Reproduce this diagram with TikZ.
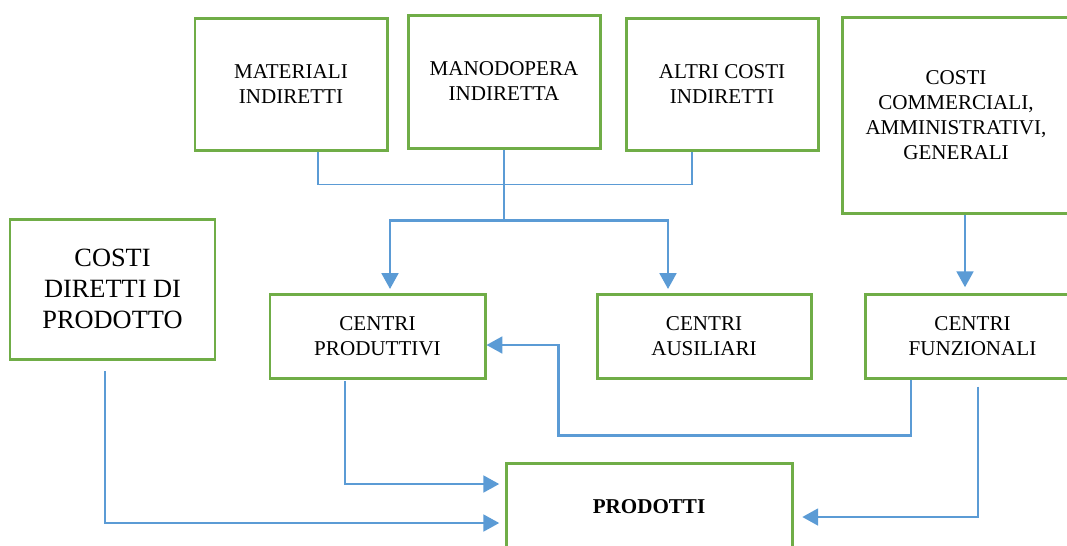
\documentclass[tikz,border=0pt]{standalone}
\usepackage{fontspec}
\setmainfont{Liberation Serif}
\usepackage{tikz}
\usetikzlibrary{arrows.meta,positioning}
\definecolor{boxgreen}{RGB}{112,173,71}
\definecolor{linkblue}{RGB}{91,155,213}

\begin{document}
\begin{tikzpicture}[
    box/.style={draw=boxgreen,line width=1.7pt,align=center,inner sep=0pt,
      font=\fontsize{12}{14.2}\selectfont},
    thin/.style={draw=linkblue,line width=0.7pt},
    flow/.style={draw=linkblue,line width=1.5pt,-{Triangle[length=9pt,width=9.5pt]}}]
  \clip (0,0) rectangle (21.34,-10.9);
  \node[box,minimum width=3.84cm,minimum height=2.64cm] (mat)  at (5.82,-1.68)  {MATERIALI\\INDIRETTI};
  \node[box,minimum width=3.84cm,minimum height=2.66cm] (mano) at (10.08,-1.63) {MANODOPERA\\INDIRETTA};
  \node[box,minimum width=3.84cm,minimum height=2.64cm] (altri) at (14.44,-1.68) {ALTRI COSTI\\INDIRETTI};
  \node[box,minimum width=4.56cm,minimum height=3.92cm] (comm) at (19.12,-2.3) {COSTI\\COMMERCIALI,\\AMMINISTRATIVI,\\GENERALI};
  \node[box,minimum width=4.1cm,minimum height=2.8cm,font=\fontsize{15}{17.6}\selectfont] (dir) at (2.25,-5.78) {COSTI\\DIRETTI DI\\PRODOTTO};
  \node[box,minimum width=4.3cm,minimum height=1.68cm] (prod) at (7.55,-6.72) {CENTRI\\PRODUTTIVI};
  \node[box,minimum width=4.28cm,minimum height=1.68cm] (aus) at (14.08,-6.72) {CENTRI\\AUSILIARI};
  \node[box,minimum width=4.3cm,minimum height=1.68cm] (funz) at (19.45,-6.72) {CENTRI\\FUNZIONALI};
  \node[box,minimum width=5.72cm,minimum height=1.76cm,font=\fontsize{12}{14.2}\selectfont\bfseries] (prodotti) at (12.98,-10.14) {PRODOTTI};

  \draw[thin] ([xshift=0.54cm]mat.south) -- ++(0,-0.66) -| ([xshift=-0.6cm]altri.south);
  \draw[thin] (mano.south) -- ++(0,-1.42) coordinate (split);
  \draw[flow,shorten >=2pt] (split) -| ([xshift=0.25cm]prod.north);
  \draw[flow,shorten >=2pt] (split) -| ([xshift=-0.72cm]aus.north);
  \draw[flow,shorten >=3pt] ([xshift=0.18cm]comm.south) -- ([xshift=0.18cm]comm.south |- funz.north);
  \draw[flow,shorten <=1pt,shorten >=3pt] ([xshift=-0.65cm]prod.south) |- ([yshift=0.46cm]prodotti.west);
  \draw[flow,shorten <=6pt,shorten >=3pt] ([xshift=-0.15cm]dir.south) |- ([yshift=-0.32cm]prodotti.west);
  \draw[flow,shorten <=4pt,shorten >=5pt] ([xshift=0.11cm]funz.south) |- ([yshift=-0.2cm]prodotti.east);
  \draw[flow] ([xshift=-1.23cm]funz.south) -- ++(0,-1.12) -| ([xshift=1.44cm,yshift=-0.18cm]prod.east) -- ([yshift=-0.18cm]prod.east);
\end{tikzpicture}
\end{document}
